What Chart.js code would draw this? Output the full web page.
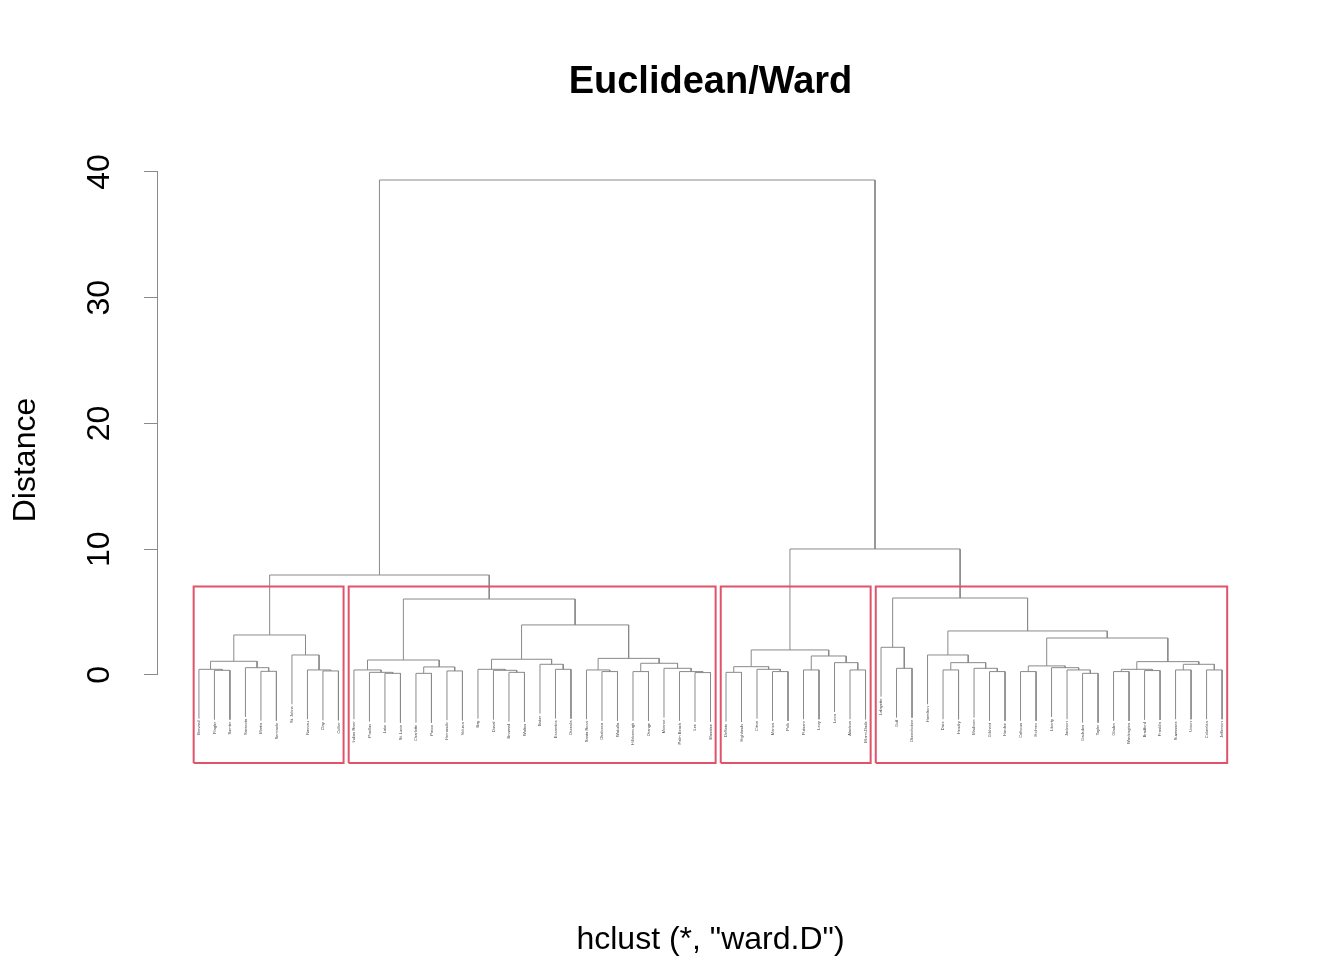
<!DOCTYPE html>
<html><head><meta charset="utf-8">
<script src="https://cdn.jsdelivr.net/npm/chart.js@4.4.0/dist/chart.umd.min.js"></script>
<style>html,body{margin:0;padding:0;background:#fff}canvas{display:block}</style>
</head><body>
<canvas id="c" width="1344" height="960"></canvas>
<script>
// Leaves in display order (1-based positions)
const leafLabels = [
  "Brevard","Flagler","Sumter","Sarasota","Martin","Seminole","St. Johns","Nassau","Clay","Collier",
  "Indian River","Pinellas","Lake","St. Lucie","Charlotte","Pasco","Hernando","Volusia","Bay","Duval",
  "Broward","Walton","Baker","Escambia","Osceola","Santa Rosa","Okaloosa","Wakulla","Hillsborough","Orange",
  "Monroe","Palm Beach","Lee","Manatee",
  "DeSoto","Highlands","Citrus","Marion","Polk","Putnam","Levy","Leon","Alachua","Miami-Dade",
  "Lafayette","Gulf","Okeechobee","Hamilton","Dixie","Hendry","Madison","Gilchrist","Hardee","Calhoun",
  "Holmes","Liberty","Jackson","Gadsden","Taylor","Glades","Washington","Bradford","Franklin","Suwannee",
  "Union","Columbia","Jefferson"
];
// Merge table (R hclust style): negative = leaf position, positive = earlier merge row
const mergeLeft  = [-2,-1,-5,-4,2,-9,-8,-7,5,
  -13,-12,-11,-15,-17,13,12,-21,-20,-19,-24,-23,19,-27,-26,-29,-33,-32,-31,25,24,22,16,
  -35,-38,-37,33,-40,-43,-42,37,36,
  -46,-45,-49,-52,-51,44,-48,-54,-58,-57,-56,49,-60,-62,54,-64,-66,57,56,53,48,43,
  9,41,64];
const mergeRight = [-3,1,-6,3,4,-10,6,7,8,
  -14,10,11,-16,-18,14,15,-22,17,18,-25,20,21,-28,23,-30,-34,26,27,28,29,30,31,
  -36,-39,34,35,-41,-44,38,39,40,
  -47,42,-50,-53,45,46,47,-55,-59,50,51,52,-61,-63,55,-65,-67,58,59,60,61,62,
  32,63,65];
const mergeHeight = [0.37,0.45,0.29,0.58,1.09,0.32,0.40,1.59,3.18,
  0.13,0.21,0.40,0.13,0.32,0.64,1.19,0.21,0.37,0.45,0.45,0.85,1.25,0.27,0.40,0.27,0.19,0.27,0.53,0.93,1.32,3.98,6.04,
  0.21,0.27,0.45,0.66,0.40,0.40,0.98,1.51,1.99,
  0.53,2.20,0.40,0.27,0.53,0.98,1.59,0.27,0.13,0.40,0.58,0.72,0.27,0.35,0.45,0.40,0.40,0.85,1.06,2.94,3.50,6.12,
  7.95,10.02,39.36];
const clusterCount = 4;
const yTicks = [0,10,20,30,40];
const yRange = [-7.0, 41.19];
const titleText = "Euclidean/Ward";
const subTitleText = 'hclust (*, "ward.D")';
const yTitleText = "Distance";

// ---- derived structures ----
const nLeaves = leafLabels.length;
const hMax = Math.max(...mergeHeight), hMin = Math.min(...mergeHeight);
const hang = 0.1 * (hMax - hMin);
const nodeX = [];
const leafBottom = new Array(nLeaves).fill(0);
const treeLines = [];
const LINE = '#8a8a8a', BOX = '#DF536B';
for (let k = 0; k < mergeHeight.length; k++) {
  const h = mergeHeight[k];
  const pos = id => {
    if (id < 0) { leafBottom[-id-1] = h - hang; return {x: -id, y: h - hang}; }
    return {x: nodeX[id-1], y: mergeHeight[id-1]};
  };
  const a = pos(mergeLeft[k]), b = pos(mergeRight[k]);
  nodeX[k] = (a.x + b.x) / 2;
  treeLines.push({data:[{x:a.x,y:a.y},{x:a.x,y:h},{x:b.x,y:h},{x:b.x,y:b.y}],
    showLine:true, borderColor:LINE, borderWidth:1, pointRadius:0, tension:0, fill:false});
}
// clusters for rect.hclust
const nM = mergeHeight.length;
const topRows = [];
for (let r = nM - clusterCount + 2; r <= nM; r++) topRows.push(r);
const roots = [];
topRows.forEach(r => [mergeLeft[r-1], mergeRight[r-1]].forEach(c => { if (!(c > 0 && topRows.includes(c))) roots.push(c); }));
const leavesOf = id => id < 0 ? [-id] : leavesOf(mergeLeft[id-1]).concat(leavesOf(mergeRight[id-1]));
const sortedH = [...mergeHeight].sort((a,b)=>b-a);
const boxTop = (sortedH[clusterCount-2] + sortedH[clusterCount-1]) / 2;
const boxLines = roots.map(r => {
  const l = leavesOf(r); const lo = Math.min(...l) - 0.34, hi = Math.max(...l) + 0.33;
  return {data:[{x:lo,y:yRange[0]},{x:lo,y:boxTop},{x:hi,y:boxTop},{x:hi,y:yRange[0]},{x:lo,y:yRange[0]}],
    showLine:true, borderColor:BOX, borderWidth:2, pointRadius:0, tension:0, fill:false, clip:false,
    borderJoinStyle:'miter'};
});

const FONT = '"Liberation Sans", Arial, Helvetica, sans-serif';

const bgPlugin = {id:'bg', beforeDraw(c){const x=c.ctx;x.save();x.fillStyle='#fff';x.fillRect(0,0,c.width,c.height);x.restore();}};
const axisLinePlugin = {id:'axisLine', afterDraw(c){
  const y = c.scales.y, ctx = c.ctx;
  const x0 = Math.round(c.chartArea.left) - 0.5;
  ctx.save(); ctx.strokeStyle = LINE; ctx.lineWidth = 1;
  ctx.beginPath(); ctx.moveTo(x0, y.getPixelForValue(yTicks[0])); ctx.lineTo(x0, y.getPixelForValue(yTicks[yTicks.length-1])); ctx.stroke();
  ctx.restore();
}};
const leafLabelPlugin = {id:'leafLabels', afterDatasetsDraw(c){
  const {ctx} = c, xs = c.scales.x, ys = c.scales.y;
  ctx.save(); ctx.fillStyle = '#444'; ctx.font = '4px ' + FONT;
  ctx.textAlign = 'right'; ctx.textBaseline = 'middle';
  leafLabels.forEach((lab, i) => {
    const px = xs.getPixelForValue(i + 1), py = ys.getPixelForValue(leafBottom[i]) + 2;
    ctx.save(); ctx.translate(px, py); ctx.rotate(-Math.PI/2); ctx.fillText(lab, 0, 0); ctx.restore();
  });
  ctx.restore();
}};

new Chart(document.getElementById('c'), {
  type: 'scatter',
  data: {datasets: boxLines.concat(treeLines)},
  options: {
    responsive:false, animation:false, devicePixelRatio:1,
    layout:{padding:{left:0, right:81, top:0, bottom:0}},
    plugins:{
      legend:{display:false}, tooltip:{enabled:false},
      title:{display:true, text:titleText, fullSize:false, color:'#000',
        font:{family:FONT, size:38, weight:'bold'}, padding:{top:60, bottom:51.4}},
      subtitle:{display:true, text:subTitleText, position:'bottom', fullSize:false, color:'#000',
        font:{family:FONT, size:32, weight:'normal'}, padding:{top:157.8, bottom:0.8}}
    },
    scales:{
      x:{type:'linear', display:false, min:-1.64, max:nLeaves + 2.64},
      y:{type:'linear', min:yRange[0], max:yRange[1],
        afterBuildTicks: s => { s.ticks = yTicks.map(v => ({value:v})); },
        afterFit: s => { s.width = 158; },
        border:{display:false},
        grid:{drawOnChartArea:false, drawTicks:true, tickLength:14, color:LINE, tickColor:LINE, lineWidth:1},
        ticks:{autoSkip:false, minRotation:90, maxRotation:90, crossAlign:'center', padding:26,
          color:'#000', font:{family:FONT, size:32}},
        title:{display:true, text:yTitleText, color:'#000', font:{family:FONT, size:32}, padding:{top:7, bottom:0}}
      }
    }
  },
  plugins:[bgPlugin, axisLinePlugin, leafLabelPlugin]
});
</script>
</body></html>
